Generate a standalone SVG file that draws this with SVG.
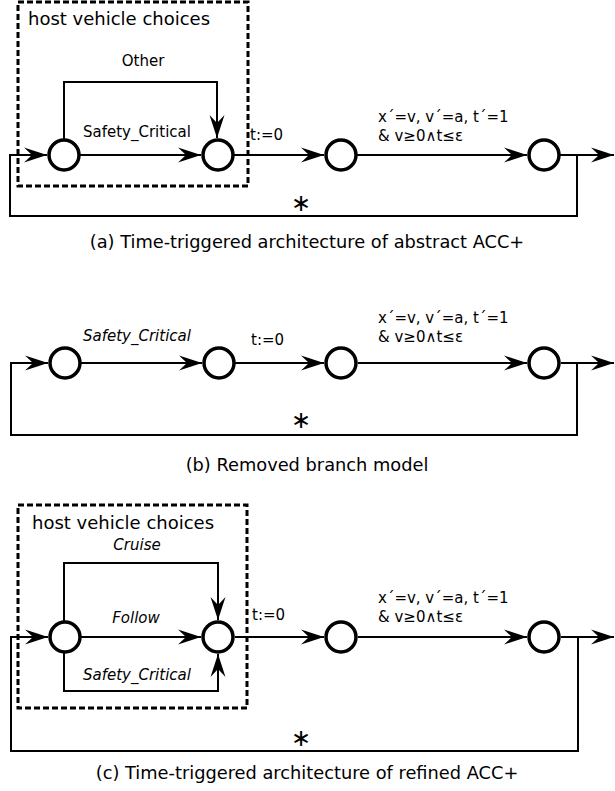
<svg xmlns="http://www.w3.org/2000/svg" width="615" height="791" viewBox="0 0 615 791">
<defs>
<marker id="arr" markerUnits="userSpaceOnUse" markerWidth="26" markerHeight="18" viewBox="-24 -9 26 18" refX="0" refY="0" orient="auto" overflow="visible">
<path d="M0,0 L-23,-7.5 L-15,0 L-23,7.5 Z" fill="#000"/>
</marker>
<style>
.st{fill:#fff;stroke:#000;stroke-width:3.5}
.ln{fill:none;stroke:#000;stroke-width:2}
.dash{fill:none;stroke:#000;stroke-width:3;stroke-dasharray:6,3}
text{font-family:"DejaVu Sans","Liberation Sans",sans-serif;fill:#000}
.lb{font-size:15px}
.it{font-size:15px;font-style:italic}
.hv{font-size:18px}
.cap{font-size:17.8px}
.ast{font-size:24px}
</style>
</defs>

<!-- Panel (a) -->
<g id="a-box"><rect class="dash" x="18" y="2" width="230" height="184"/><text class="hv" x="28" y="25">host vehicle choices</text></g>
<g id="a-conn">
<path class="ln" d="M577,155 L577,216 L10,216 L10,155 L47,155" marker-end="url(#arr)"/>
<path class="ln" d="M80,155 L201,155" marker-end="url(#arr)"/>
<path class="ln" d="M64,139 L64,82 L217,82 L217,138" marker-end="url(#arr)"/>
<path class="ln" d="M234,155 L324,155" marker-end="url(#arr)"/>
<path class="ln" d="M357,155 L527,155" marker-end="url(#arr)"/>
<path class="ln" d="M560,155 L614,155" marker-end="url(#arr)"/>
<text class="lb" x="143" y="66" text-anchor="middle">Other</text>
<text class="lb" x="83" y="137">Safety_Critical</text>
<text class="lb" x="250" y="140">t:=0</text>
<text class="lb" x="378" y="122">x´=v, v´=a, t´=1</text>
<text class="lb" x="378" y="141">&amp; v≥0∧t≤ε</text>
<text class="ast" x="301" y="211" text-anchor="middle">∗</text>
</g>
<g id="a-n1"><circle class="st" cx="64" cy="155" r="15"/></g>
<g id="a-n2"><circle class="st" cx="218" cy="155" r="15"/></g>
<g id="a-n3"><circle class="st" cx="341" cy="155" r="15"/></g>
<g id="a-n4"><circle class="st" cx="544" cy="155" r="15"/></g>
<text class="cap" x="307" y="248" text-anchor="middle">(a) Time-triggered architecture of abstract ACC+</text>

<!-- Panel (b) -->
<g id="b-conn">
<path class="ln" d="M577,363 L577,435 L11,435 L11,363 L48,363" marker-end="url(#arr)"/>
<path class="ln" d="M81,363 L202,363" marker-end="url(#arr)"/>
<path class="ln" d="M235,363 L324,363" marker-end="url(#arr)"/>
<path class="ln" d="M358,363 L527,363" marker-end="url(#arr)"/>
<path class="ln" d="M561,363 L614,363" marker-end="url(#arr)"/>
<text class="it" x="83" y="341">Safety_Critical</text>
<text class="lb" x="251" y="345">t:=0</text>
<text class="lb" x="378" y="323">x´=v, v´=a, t´=1</text>
<text class="lb" x="378" y="342">&amp; v≥0∧t≤ε</text>
<text class="ast" x="301" y="428" text-anchor="middle">∗</text>
</g>
<g id="b-n1"><circle class="st" cx="65" cy="363" r="15"/></g>
<g id="b-n2"><circle class="st" cx="219" cy="363" r="15"/></g>
<g id="b-n3"><circle class="st" cx="341" cy="363" r="15"/></g>
<g id="b-n4"><circle class="st" cx="544" cy="363" r="15"/></g>
<text class="cap" x="307" y="471" text-anchor="middle">(b) Removed branch model</text>

<!-- Panel (c) -->
<g id="c-box"><rect class="dash" x="18" y="505" width="229" height="203"/><text class="hv" x="32" y="529">host vehicle choices</text></g>
<g id="c-conn">
<path class="ln" d="M578,637 L578,751 L11,751 L11,637 L48,637" marker-end="url(#arr)"/>
<path class="ln" d="M81,637 L201,637" marker-end="url(#arr)"/>
<path class="ln" d="M64,621 L64,563 L218,563 L218,620" marker-end="url(#arr)"/>
<path class="ln" d="M64,653 L64,691 L218,691 L218,654" marker-end="url(#arr)"/>
<path class="ln" d="M235,637 L324,637" marker-end="url(#arr)"/>
<path class="ln" d="M358,637 L527,637" marker-end="url(#arr)"/>
<path class="ln" d="M561,637 L614,637" marker-end="url(#arr)"/>
<text class="it" x="137" y="550" text-anchor="middle">Cruise</text>
<text class="it" x="136" y="623" text-anchor="middle">Follow</text>
<text class="it" x="83" y="680">Safety_Critical</text>
<text class="lb" x="252" y="620">t:=0</text>
<text class="lb" x="378" y="603">x´=v, v´=a, t´=1</text>
<text class="lb" x="378" y="622">&amp; v≥0∧t≤ε</text>
<text class="ast" x="301" y="746" text-anchor="middle">∗</text>
</g>
<g id="c-n1"><circle class="st" cx="65" cy="637" r="15"/></g>
<g id="c-n2"><circle class="st" cx="218" cy="637" r="15"/></g>
<g id="c-n3"><circle class="st" cx="341" cy="637" r="15"/></g>
<g id="c-n4"><circle class="st" cx="544" cy="637" r="15"/></g>
<text class="cap" x="307" y="779" text-anchor="middle">(c) Time-triggered architecture of refined ACC+</text>
</svg>
